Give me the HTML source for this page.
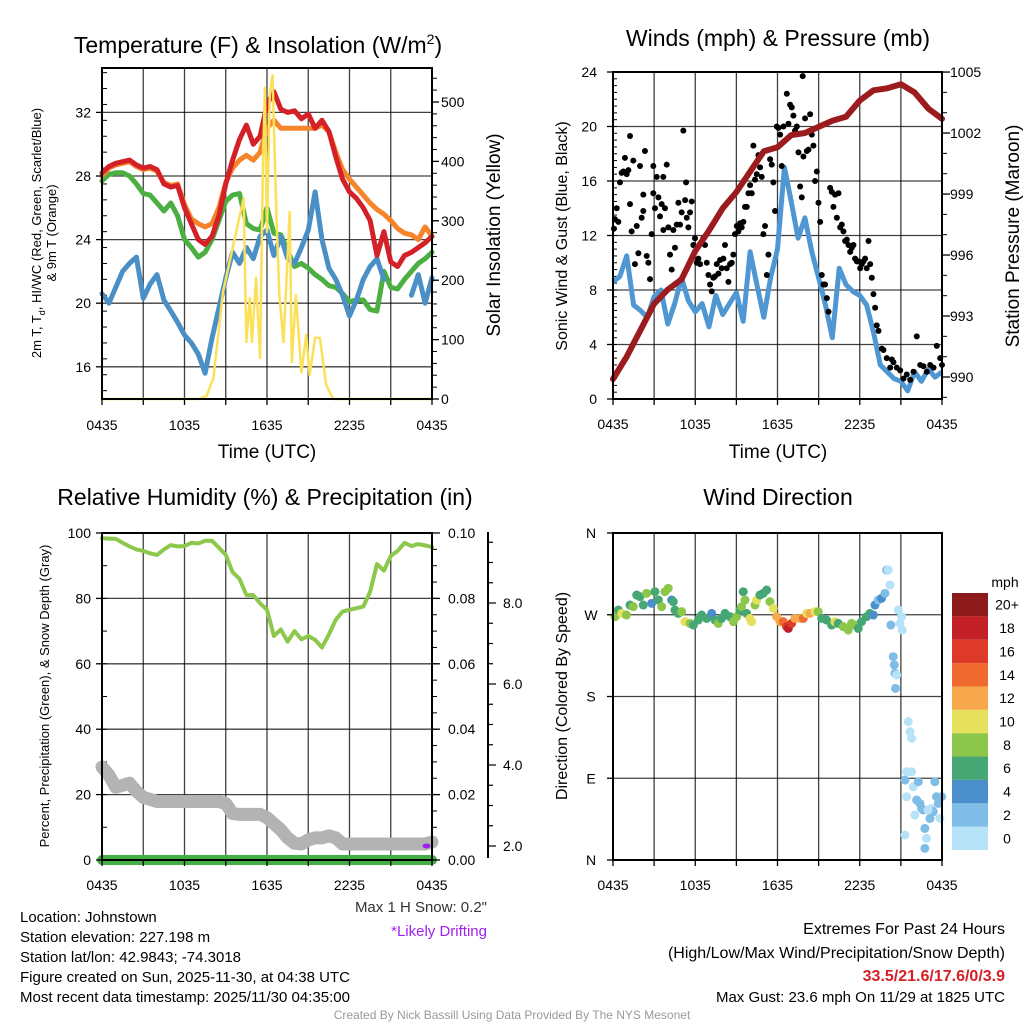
<!DOCTYPE html>
<html><head><meta charset="utf-8"><title>Mesonet Station Meteogram</title>
<style>
html,body{margin:0;padding:0;background:#fff;}
#wrap{position:relative;width:1024px;height:1024px;overflow:hidden;font-family:"Liberation Sans",Arial,sans-serif;}
svg text{font-family:"Liberation Sans",Arial,sans-serif;}
</style></head>
<body>
<div id="wrap">
<svg id="fig" width="1024" height="1024" viewBox="0 0 1024 1024" xmlns="http://www.w3.org/2000/svg"></svg>
</div>
<script>
// ---------- DATA ----------
const xTickLabels = ["0435","1035","1635","2235","0435"];
const halfHours = [0,0.5,1,1.5,2,2.5,3,3.5,4,4.5,5,5.5,6,6.5,7,7.5,8,8.5,9,9.5,10,10.5,11,11.5,12,12.5,13,13.5,14,14.5,15,15.5,16,16.5,17,17.5,18,18.5,19,19.5,20,20.5,21,21.5,22,22.5,23,23.5,24];
const hours = [0,1,2,3,4,5,6,7,8,9,10,11,12,13,14,15,16,17,18,19,20,21,22,23,24];

// Panel 1: temperature (F)
const tempTicks = [16,20,24,28,32];
const solarTicks = [0,100,200,300,400,500];
const temp2m = [28.2,28.6,28.8,28.9,29.0,28.7,28.5,28.6,28.4,27.5,27.3,27.4,26.0,25.0,24.0,23.7,24.2,25.5,27.5,29.0,30.3,31.2,30.0,30.5,32.5,33.3,32.2,32.0,32.1,31.6,31.9,31.0,31.5,30.8,29.2,27.8,27.0,26.6,26.0,25.2,23.0,24.5,22.6,22.3,23.0,23.2,23.5,23.8,24.2];
const temp9m = [28.0,28.5,28.7,28.8,28.9,28.6,28.4,28.5,28.3,27.6,27.4,27.5,26.2,25.3,25.0,24.8,25.0,26.0,27.6,28.5,29.0,29.3,29.0,29.5,31.0,31.5,31.0,31.0,31.0,31.0,31.0,31.0,31.2,30.8,29.5,28.4,27.8,27.3,26.8,26.3,25.9,25.6,25.2,24.7,24.4,24.3,24.0,24.8,24.2];
const heatIndexWindChill = [27.7,28.1,28.2,28.2,28.0,27.5,26.9,26.8,26.3,25.8,26.3,25.5,24.0,23.5,22.9,23.2,24.0,25.2,26.4,26.8,26.9,25.0,24.7,24.6,26.0,24.4,24.3,23.3,22.3,22.5,22.2,21.8,21.5,21.1,21.0,20.6,20.1,20.2,20.2,19.6,19.5,22.0,21.0,20.9,21.5,22.0,22.5,22.8,23.2];
const dewPoint = [20.6,20.0,21.0,22.0,22.5,22.9,20.3,21.2,21.8,20.2,19.5,18.8,18.0,17.5,16.8,15.6,17.8,19.7,21.6,23.2,22.5,23.5,22.8,24.2,24.6,23.0,24.2,22.8,22.5,23.5,24.6,27.0,24.0,22.2,21.5,20.5,19.2,20.2,21.5,22.3,22.8,21.5,null,null,null,20.5,21.8,20.0,21.6];
const solarTimes = [0,7.0,7.6,8.1,8.8,9.5,10.3,10.5,10.75,10.9,11.2,11.5,11.7,11.85,12.0,12.2,12.4,12.7,12.9,13.2,13.65,13.8,14.1,14.5,14.85,15.1,15.5,15.85,16.3,16.8,24];
const solarValues = [0,0,5,35,180,254,338,96,170,96,204,69,394,524,281,512,545,298,175,96,315,62,175,45,108,40,103,103,24,0,0];

// Panel 2: winds & pressure
const windTicks = [0,4,8,12,16,20,24];
const presTicks = [990,993,996,999,1002,1005];
const windSpeed = [8.6,9.0,10.5,6.9,6.5,6.0,7.5,8.0,5.5,7.0,8.9,7.2,6.4,7.0,5.3,7.6,6.2,7.0,7.8,5.7,10.8,8.4,6.0,8.9,11.0,17.0,14.5,11.8,13.3,10.8,8.9,6.9,4.5,9.6,8.4,7.9,7.6,6.9,4.9,2.5,2.0,1.5,1.3,0.6,2.0,1.3,2.2,1.6,2.0];
const pressure = [989.9,991.0,992.3,993.6,994.3,994.8,996.2,997.2,998.3,999.1,1000.1,1001.1,1001.3,1001.9,1002.0,1002.3,1002.6,1002.8,1003.6,1004.1,1004.2,1004.4,1004.0,1003.2,1002.7];
const gustTimes = [0.07,0.14,0.27,0.39,0.51,0.63,0.75,0.87,1.0,1.12,1.24,1.24,1.36,1.48,1.6,1.73,1.85,1.97,2.09,2.21,2.21,2.33,2.46,2.58,2.7,2.82,2.94,2.94,3.06,3.19,3.31,3.43,3.55,3.67,3.67,3.79,3.92,4.04,4.16,4.28,4.4,4.52,4.65,4.77,4.89,5.01,5.13,5.26,5.33,5.38,5.5,5.62,5.74,5.86,5.98,6.11,6.23,6.35,6.47,6.59,6.71,6.84,6.96,7.08,7.2,7.32,7.44,7.57,7.69,7.81,7.93,8.05,8.17,8.3,8.42,8.54,8.66,8.78,8.9,9.03,9.15,9.27,9.39,9.51,9.63,9.76,9.88,10.0,10.12,10.24,10.36,10.49,10.61,10.73,10.85,10.97,11.09,11.22,11.34,11.46,11.58,11.7,11.82,11.95,12.07,12.19,12.31,12.43,12.68,12.8,12.92,13.04,13.16,13.28,13.41,13.53,13.65,13.77,13.84,13.89,14.01,14.14,14.26,14.38,14.5,14.62,14.74,14.87,14.99,15.11,15.23,15.35,15.47,15.6,15.72,15.84,15.96,16.08,16.2,16.33,16.45,16.57,16.69,16.81,16.93,17.06,17.18,17.3,17.42,17.54,17.66,17.79,17.91,18.03,18.15,18.27,18.39,18.51,18.64,18.76,18.88,19.0,19.12,19.24,19.37,19.61,19.73,19.97,20.22,20.34,20.46,20.7,20.95,21.19,21.43,21.68,21.92,22.16,22.41,22.65,22.89,23.14,23.38,23.62,23.87,24.0];
const gustValues = [12.5,13.2,14.0,13.0,15.9,16.6,16.7,17.7,16.5,16.8,19.3,14.3,12.3,17.5,9.9,12.7,10.7,17.1,13.3,15.0,13.8,18.2,10.5,10.0,8.8,12.1,15.1,17.1,14.0,16.3,14.8,13.4,14.3,12.4,16.3,14.0,17.2,12.6,10.6,9.5,12.4,11.1,12.8,14.4,12.8,13.7,19.7,14.6,15.9,13.3,12.6,13.7,14.5,11.3,11.8,10.0,10.3,9.9,11.5,11.8,11.3,10.0,9.1,8.4,7.9,8.9,9.0,9.9,9.2,10.2,9.6,10.3,11.3,9.6,8.6,9.9,10.0,10.6,12.1,12.7,12.3,12.9,12.6,13.0,14.1,14.1,15.1,15.7,15.1,18.6,16.1,16.5,17.9,17.0,16.3,12.1,12.7,9.1,10.6,17.6,17.2,15.9,13.8,20.0,19.9,19.4,17.1,20.0,22.4,20.2,21.6,21.4,20.8,19.7,20.0,18.1,15.6,14.8,23.7,17.8,20.6,18.2,18.3,20.9,19.4,18.6,16.0,16.7,14.4,13.0,9.1,8.4,8.4,7.4,6.4,15.5,15.2,14.1,15.0,13.3,15.1,12.6,12.8,12.3,11.6,11.7,11.3,10.8,11.1,11.3,10.3,10.1,10.1,9.6,9.9,10.1,10.3,9.6,11.6,9.9,8.9,7.7,6.7,5.4,5.0,3.7,3.6,3.0,2.3,2.9,2.7,2.3,2.1,1.5,1.8,1.4,2.0,4.6,2.5,2.4,2.0,2.5,2.3,3.9,3.0,2.5];

// Panel 3: RH, precip, snow
const rhTicks = [0,20,40,60,80,100];
const precipTicks = ["0.00","0.02","0.04","0.06","0.08","0.10"];
const snowTicks = ["2.0","4.0","6.0","8.0"];
const relHumidity = [98.4,98.3,98.2,97.0,95.9,95.0,94.5,93.8,93.3,95.0,96.3,95.9,96.0,97.0,96.8,97.6,97.6,95.5,93.3,88.0,86.0,81.0,81.0,78.5,76.5,68.5,70.5,66.8,70.0,67.5,68.5,67.3,65.0,69.0,73.5,76.0,76.5,77.0,77.5,82.0,90.5,88.5,93.0,94.5,97.0,96.0,96.6,96.2,95.7];
const snowDepth = [3.95,3.75,3.45,3.5,3.55,3.35,3.2,3.15,3.1,3.1,3.1,3.1,3.1,3.1,3.1,3.1,3.1,3.1,3.05,2.8,2.78,2.78,2.78,2.78,2.7,2.55,2.4,2.2,2.07,2.05,2.15,2.2,2.2,2.25,2.2,2.05,2.05,2.05,2.05,2.05,2.05,2.05,2.05,2.05,2.05,2.05,2.05,2.05,2.1];
const precipHourly = [0,0,0,0,0,0,0,0,0,0,0,0,0,0,0,0,0,0,0,0,0,0,0,0,0];
const driftTimes = [23.6];
const driftSnow = [2.0];

// Panel 4: wind direction coloured by speed
const dirLabels = ["N","E","S","W","N"];
const speedBinLabels = ["0","2","4","6","8","10","12","14","16","18","20+"];
const speedBinColors = ["#b6e3f8","#7fbce6","#4a8fcc","#46a775","#8cc74c","#e6e15c","#f8a84c","#ef6a2e","#de3a2a","#c21f26","#8e1b1c"];
const dirTimes = [0.15,0.39,0.63,0.98,1.24,1.48,1.73,1.97,2.21,2.45,2.82,3.06,3.31,3.55,3.79,4.03,4.28,4.40,4.52,4.76,5.01,5.25,5.62,5.86,6.22,6.47,6.83,7.20,7.44,7.68,7.92,8.17,8.53,8.78,9.02,9.26,9.38,9.50,9.63,9.75,9.99,10.11,10.36,10.48,10.72,10.96,11.21,11.45,11.69,11.94,12.18,12.42,12.66,12.79,13.03,13.27,13.64,13.88,14.12,14.37,14.73,14.97,15.22,15.58,15.95,16.19,16.43,16.80,17.16,17.40,17.65,17.89,18.13,18.50,18.74,18.99,19.11,19.35,19.59,19.84,19.96,20.08,20.20,20.27,20.44,20.52,20.57,20.69,20.61,20.81,20.93,21.05,21.10,21.54,21.66,21.78,21.42,21.78,21.30,21.42,21.90,22.15,22.27,22.39,22.51,22.63,22.75,22.87,22.75,23.12,23.24,23.36,23.48,23.60,23.73,23.85,23.97,21.30,22.02,22.99];
const dirDegrees = [267.9,275.2,271.5,269.7,280.7,278.9,291.7,289.9,280.7,293.6,282.6,295.4,286.2,278.9,295.4,299.1,286.2,284.4,275.2,271.5,273.4,262.4,260.5,258.7,264.2,269.7,266.0,271.5,264.2,260.5,266.0,271.5,267.9,262.4,267.9,275.2,278.9,295.4,286.2,271.5,266.0,262.4,280.7,286.2,291.7,293.6,297.2,284.4,277.0,267.9,262.4,262.4,256.9,255.0,260.5,266.0,266.0,266.0,271.5,271.5,273.4,273.4,266.0,264.2,258.7,262.4,260.5,256.9,253.2,260.5,258.7,255.0,262.4,267.9,271.5,269.7,280.7,286.2,288.1,293.6,319.3,319.3,302.7,258.7,223.8,214.7,205.5,203.7,189.0,275.2,260.5,267.9,253.2,152.3,141.3,133.9,97.2,97.2,88.0,69.7,80.7,66.0,86.2,62.3,56.8,55.0,34.8,23.8,12.8,45.8,56.8,53.2,86.2,69.7,62.3,45.8,69.7,27.5,49.5,55.0];
const dirSpeeds = [8.5,6.5,10.5,8.5,6.5,8.5,6.5,6.5,6.5,8.5,4.5,6.5,6.5,8.5,8.5,8.5,4.5,6.5,6.5,6.5,8.5,10.5,8.5,6.5,6.5,6.5,6.5,4.5,6.5,8.5,6.5,6.5,6.5,8.5,8.5,6.5,8.5,6.5,8.5,6.5,10.5,10.5,8.5,10.5,6.5,6.5,6.5,8.5,10.5,12.5,12.5,14.5,16.5,18.5,16.5,12.5,12.5,14.5,10.5,12.5,10.5,8.5,6.5,6.5,6.5,10.5,6.5,8.5,8.5,8.5,8.5,6.5,6.5,6.5,6.5,4.5,4.5,2.5,4.5,2.5,2.5,0.5,0.5,2.5,2.5,2.5,2.5,0.5,2.5,0.5,0.5,0.5,0.5,0.5,0.5,0.5,0.5,0.5,2.5,0.5,0.5,2.5,2.5,2.5,2.5,2.5,2.5,0.5,2.5,2.5,0.5,2.5,2.5,2.5,2.5,0.5,2.5,0.5,0.5,0.5];

// ---------- DRAWING ----------
const NS = "http://www.w3.org/2000/svg";
const svg = document.getElementById("fig");
function mk(tag, attrs, parent){
  const e = document.createElementNS(NS, tag);
  for (const k in attrs) e.setAttribute(k, attrs[k]);
  (parent || svg).appendChild(e);
  return e;
}
function txt(s, x, y, size, anchor, parent, extra){
  const a = {x:x, y:y, "font-size":size, "text-anchor":anchor || "middle", fill:"#000"};
  if (extra) for (const k in extra) a[k] = extra[k];
  const t = mk("text", a, parent);
  t.textContent = s;
  return t;
}
function safe(f){ return v => (v === null || v === undefined) ? null : f(v); }
function pathFrom(xs, ys){
  let d = "", pen = false;
  for (let i = 0; i < xs.length; i++){
    if (ys[i] === null || ys[i] === undefined || isNaN(ys[i])){ pen = false; continue; }
    d += (pen ? "L" : "M") + xs[i].toFixed(1) + " " + ys[i].toFixed(1) + " ";
    pen = true;
  }
  return d;
}
function grid(g, x0, x1, y0, y1, yLines){
  for (let h = 3; h < 24; h += 3){
    const x = x0 + h * (x1 - x0) / 24;
    const l = mk("line", {x1:x, y1:y0, x2:x, y2:y1, stroke:"#000", "stroke-width":1.3, "stroke-opacity":0.75}, g);
    
    
  }
  yLines.forEach(y => {
    const l = mk("line", {x1:x0, y1:y, x2:x1, y2:y, stroke:"#000", "stroke-width":1.3, "stroke-opacity":0.75}, g);
    
    
  });
}
function frame(g, x0, x1, y0, y1){
  const r = mk("rect", {x:x0, y:y0, width:x1-x0, height:y1-y0, fill:"none", stroke:"#000", "stroke-width":2}, g);
  
  
}
function xAxis(g, x0, x1, yb, labY){
  for (let h = 0; h <= 24; h += 3){
    const x = x0 + h * (x1 - x0) / 24;
    mk("line", {x1:x, y1:yb, x2:x, y2:yb+6, stroke:"#000", "stroke-width":1.3}, g);
  }
  xTickLabels.forEach((s, i) => {
    const x = x0 + i * 6 * (x1 - x0) / 24;
    const t = txt(s, x, labY, 14, "middle", g);
    
    
  });
}
function minorTicks(g, x, yA, yB, step, dir, len){
  for (let y = yA; y <= yB + 0.01; y += step){
    mk("line", {x1:x, y1:y, x2:x + dir*len, y2:y, stroke:"#000", "stroke-width":1}, g);
  }
}

// ===== Panel 1 =====
(function(){
  const g = mk("g", {});
  
  
  const X0 = 102, X1 = 432, Y0 = 68, Y1 = 399;
  const xT = t => X0 + t * (X1 - X0) / 24;
  const yTemp = safe(v => 176 - (v - 28) * 15.9);
  const ySol = safe(w => 399 - w * 0.594);
  grid(g, X0, X1, Y0, Y1, tempTicks.map(yTemp));
  minorTicks(g, X0, yTemp(34.5), yTemp(14), 15.9, 1, 5);
  minorTicks(g, X1, ySol(540), ySol(0), 11.88, 1, 5);
  const series = [
    {v:heatIndexWindChill, c:"#4caf42", n:"heat-index-wind-chill-line"},
    {v:dewPoint, c:"#4a90c6", n:"dewpoint-line"},
    {v:temp9m, c:"#f5842a", n:"temp-9m-line"},
    {v:temp2m, c:"#d42027", n:"temp-2m-line"}
  ];
  series.forEach(s => {
    const p = mk("path", {d:pathFrom(halfHours.map(xT), s.v.map(yTemp)), fill:"none", stroke:s.c, "stroke-width":5, "stroke-linejoin":"round", "stroke-linecap":"round"}, g);
    
    
  });
  const sp = mk("path", {d:pathFrom(solarTimes.map(xT), solarValues.map(ySol)), fill:"none", stroke:"#fbe05a", "stroke-width":2.5, "stroke-linejoin":"round"}, g);
  
  
  frame(g, X0, X1, Y0, Y1);
  tempTicks.forEach(v => {
    mk("line", {x1:X0-6, y1:yTemp(v), x2:X0, y2:yTemp(v), stroke:"#000", "stroke-width":1.3}, g);
    const t = txt(String(v), 91, yTemp(v)+5, 14, "end", g);
    
    
  });
  solarTicks.forEach(v => {
    mk("line", {x1:X1, y1:ySol(v), x2:X1+7, y2:ySol(v), stroke:"#000", "stroke-width":1.3}, g);
    const t = txt(String(v), 441, ySol(v)+5, 14, "start", g);
    
    
  });
  xAxis(g, X0, X1, Y1, 430);
  const ti = txt("Temperature (F) & Insolation (W/m", 258, 53, 23, "middle", g);
  const sup = mk("tspan", {dy:-9, "font-size":14}, ti); sup.textContent = "2";
  const cl = mk("tspan", {dy:9}, ti); cl.textContent = ")";
  
  
  const xl = txt("Time (UTC)", 267, 458, 19, "middle", g);
  
  
  const yl = txt("2m T, T", 0, 0, 13, "middle", g, {transform:"translate(41,233) rotate(-90)"});
  const sb = mk("tspan", {dy:4, "font-size":9}, yl); sb.textContent = "d";
  const rest = mk("tspan", {dy:-4}, yl); rest.textContent = ", HI/WC (Red, Green, Scarlet/Blue)";
  
  
  const yl2 = txt("& 9m T (Orange)", 0, 0, 13, "middle", g, {transform:"translate(56,233) rotate(-90)"});
  
  
  const yr = txt("Solar Insolation (Yellow)", 0, 0, 19, "middle", g, {transform:"translate(500,235) rotate(-90)"});
  
  
})();

// ===== Panel 2 =====
(function(){
  const g = mk("g", {});
  
  
  const X0 = 613, X1 = 942, Y0 = 72, Y1 = 399;
  const xT = t => X0 + t * (X1 - X0) / 24;
  const yW = safe(v => 399 - v * 13.625);
  const yP = safe(p => 377 - (p - 990) * 20.33);
  grid(g, X0, X1, Y0, Y1, windTicks.map(yW));
  minorTicks(g, X0, yW(24), yW(0), 13.625/2, 1, 4);
  minorTicks(g, X1, yP(1005), yP(989), 20.33, 1, 5);
  const wp = mk("path", {d:pathFrom(halfHours.map(xT), windSpeed.map(yW)), fill:"none", stroke:"#4f97d2", "stroke-width":5, "stroke-linejoin":"round"}, g);
  
  
  gustTimes.forEach((t, i) => {
    const c = mk("circle", {cx:xT(t), cy:yW(gustValues[i]), r:3, fill:"#000"}, g);
    
    
  });
  const pp = mk("path", {d:pathFrom(hours.map(xT), pressure.map(yP)), fill:"none", stroke:"#9b1b1e", "stroke-width":6, "stroke-linejoin":"round", "stroke-linecap":"round"}, g);
  
  
  frame(g, X0, X1, Y0, Y1);
  windTicks.forEach(v => {
    mk("line", {x1:X0-6, y1:yW(v), x2:X0, y2:yW(v), stroke:"#000", "stroke-width":1.3}, g);
    const t = txt(String(v), 597, yW(v)+5, 14, "end", g);
    
    
  });
  presTicks.forEach(v => {
    mk("line", {x1:X1, y1:yP(v), x2:X1+8, y2:yP(v), stroke:"#000", "stroke-width":1.3}, g);
    const t = txt(String(v), 950, yP(v)+5, 14, "start", g);
    
    
  });
  xAxis(g, X0, X1, Y1, 429);
  const ti = txt("Winds (mph) & Pressure (mb)", 778, 46, 23, "middle", g);
  
  
  const xl = txt("Time (UTC)", 778, 458, 19, "middle", g);
  
  
  const yl = txt("Sonic Wind & Gust (Blue, Black)", 0, 0, 16, "middle", g, {transform:"translate(567,236) rotate(-90)"});
  
  
  const yr = txt("Station Pressure (Maroon)", 0, 0, 19, "middle", g, {transform:"translate(1019,236) rotate(-90)"});
  
  
})();

// ===== Panel 3 =====
(function(){
  const g = mk("g", {});
  
  
  const X0 = 102, X1 = 432, Y0 = 533, Y1 = 860;
  const xT = t => X0 + t * (X1 - X0) / 24;
  const yRH = safe(v => 860 - v * 3.27);
  const yPr = safe(p => 860 - p * 3270);
  const ySnow = safe(s => 846 - (s - 2) * 40.5);
  grid(g, X0, X1, Y0, Y1, rhTicks.map(yRH));
  minorTicks(g, X0, yRH(100), yRH(0), 3.27*10, 1, 5);
  minorTicks(g, X1, yPr(0.1), yPr(0), 3270*0.005, 1, 5);
  const rp = mk("path", {d:pathFrom(halfHours.map(xT), relHumidity.map(yRH)), fill:"none", stroke:"#8cc84b", "stroke-width":4, "stroke-linejoin":"round", "stroke-linecap":"round"}, g);
  
  
  const sp = mk("path", {d:pathFrom(halfHours.map(xT), snowDepth.map(ySnow)), fill:"none", stroke:"#b3b3b3", "stroke-width":13, "stroke-linejoin":"round", "stroke-linecap":"round"}, g);
  
  
  const pp = mk("path", {d:pathFrom(hours.map(xT), precipHourly.map(yPr)), fill:"none", stroke:"#45ad45", "stroke-width":10, "stroke-linecap":"round"}, g);
  
  
  driftTimes.forEach((t, i) => {
    const e = mk("ellipse", {cx:xT(t), cy:ySnow(driftSnow[i]), rx:4, ry:2.5, fill:"#a020f0"}, g);
    
    
  });
  frame(g, X0, X1, Y0, Y1);
  rhTicks.forEach(v => {
    mk("line", {x1:X0-6, y1:yRH(v), x2:X0, y2:yRH(v), stroke:"#000", "stroke-width":1.3}, g);
    const t = txt(String(v), 91, yRH(v)+5, 14, "end", g);
    
    
  });
  precipTicks.forEach(s => {
    const y = yPr(parseFloat(s));
    mk("line", {x1:X1, y1:y, x2:X1+8, y2:y, stroke:"#000", "stroke-width":1.3}, g);
    const t = txt(s, 448, y+5, 14, "start", g);
    
    
  });
  const sa = mk("line", {x1:488, y1:532, x2:488, y2:858, stroke:"#000", "stroke-width":2}, g);
  
  
  for (let s = 2; s <= 9.5; s += 0.5){
    const y = ySnow(s);
    if (y < 533) continue;
    const major = Math.abs(s - Math.round(s/2)*2) < 0.01;
    mk("line", {x1:488, y1:y, x2:488 + (major ? 8 : 5), y2:y, stroke:"#000", "stroke-width":1.2}, g);
  }
  snowTicks.forEach(s => {
    const t = txt(s, 503, ySnow(parseFloat(s))+5, 14, "start", g);
    
    
  });
  xAxis(g, X0, X1, Y1, 890);
  const ti = txt("Relative Humidity (%) & Precipitation (in)", 265, 505, 23, "middle", g);
  
  
  const yl = txt("Percent, Precipitation (Green), & Snow Depth (Gray)", 0, 0, 13, "middle", g, {transform:"translate(49,696) rotate(-90)"});
  
  
})();

// ===== Panel 4 =====
(function(){
  const g = mk("g", {});
  
  
  const X0 = 613, X1 = 942, Y0 = 533, Y1 = 860;
  const xT = t => X0 + t * (X1 - X0) / 24;
  const yD = d => 860 - d * 0.9083;
  grid(g, X0, X1, Y0, Y1, [90,180,270].map(yD));
  const binOf = s => Math.max(0, Math.min(10, Math.floor(s / 2)));
  dirTimes.forEach((t, i) => {
    const c = mk("circle", {cx:xT(t), cy:yD(dirDegrees[i]), r:4.5, fill:speedBinColors[binOf(dirSpeeds[i])]}, g);
    
    
  });
  frame(g, X0, X1, Y0, Y1);
  dirLabels.forEach((s, i) => {
    const y = yD(i * 90);
    mk("line", {x1:X0-6, y1:y, x2:X0, y2:y, stroke:"#000", "stroke-width":1.3}, g);
    const t = txt(s, 591, y+5, 14, "middle", g);
    
    
  });
  xAxis(g, X0, X1, Y1, 890);
  const ti = txt("Wind Direction", 778, 505, 23, "middle", g);
  
  
  const yl = txt("Direction (Colored By Speed)", 0, 0, 16, "middle", g, {transform:"translate(567,696) rotate(-90)"});
  
  
  const cb = mk("g", {}, g);
  
  
  const bh = (850 - 593) / speedBinLabels.length;
  speedBinLabels.forEach((s, i) => {
    const y = 850 - (i + 1) * bh;
    const r = mk("rect", {x:952, y:y, width:36, height:bh, fill:speedBinColors[i]}, cb);
    
    
    const t = txt(s, 1007, y + bh/2 + 5, 14, "middle", cb);
    
    
  });
  const u = txt("mph", 1005, 587, 14, "middle", cb);
  
  
})();

// ===== Footer text =====
(function(){
  const g = mk("g", {});
  
  
  const lines = ["Location: Johnstown","Station elevation: 227.198 m","Station lat/lon: 42.9843; -74.3018","Figure created on Sun, 2025-11-30, at 04:38 UTC","Most recent data timestamp: 2025/11/30 04:35:00"];
  const ys = [922,942,962,982,1002];
  lines.forEach((s, i) => {
    const t = txt(s, 20, ys[i], 15, "start", g);
    
    
  });
  const m = txt("Max 1 H Snow: 0.2\"", 487, 912, 15, "end", g, {fill:"#333"});
  
  
  const d = txt("*Likely Drifting", 487, 936, 15, "end", g, {fill:"#a020f0"});
  
  
  const e1 = txt("Extremes For Past 24 Hours", 1005, 934, 16, "end", g);
  
  
  const e2 = txt("(High/Low/Max Wind/Precipitation/Snow Depth)", 1005, 958, 16, "end", g);
  
  
  const e3 = txt("33.5/21.6/17.6/0/3.9", 1005, 981, 16, "end", g, {fill:"#d42027", "font-weight":"bold"});
  
  
  const e4 = txt("Max Gust: 23.6 mph On 11/29 at 1825 UTC", 1005, 1002, 15, "end", g);
  
  
  const c = txt("Created By Nick Bassill Using Data Provided By The NYS Mesonet", 512, 1019, 12, "middle", g, {fill:"#999"});
  
  
})();
</script>
</body></html>
